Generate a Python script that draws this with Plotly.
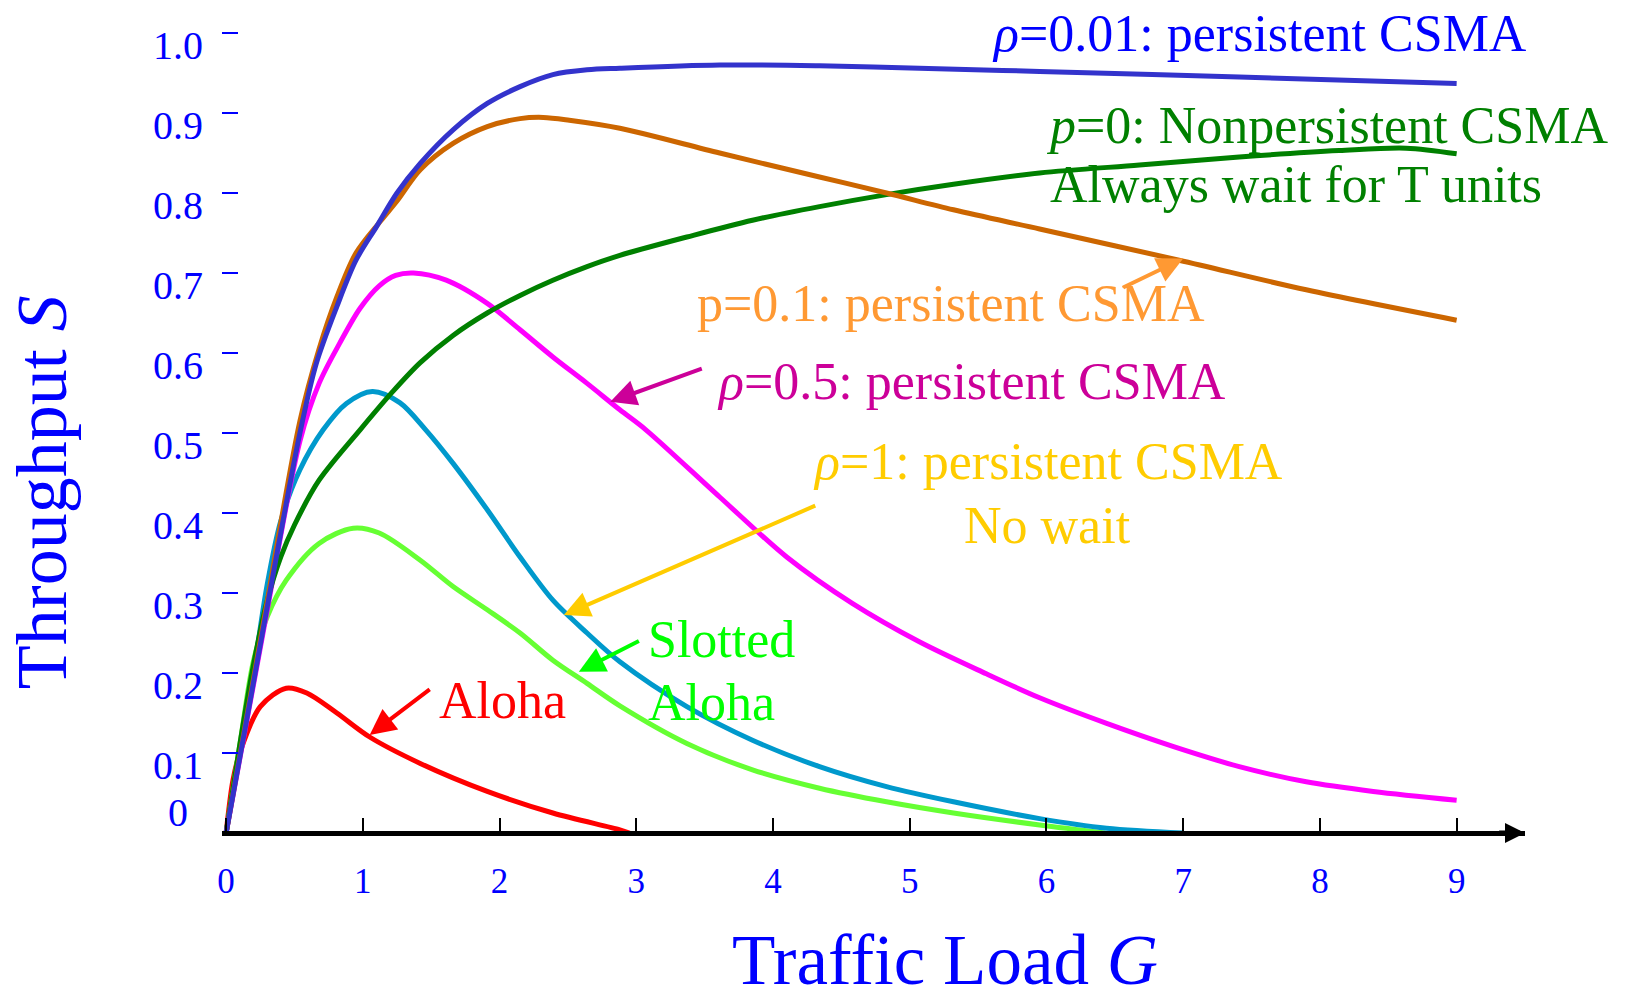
import plotly.graph_objects as go

# ---------------- data ----------------
x_ticks = [0, 1, 2, 3, 4, 5, 6, 7, 8, 9]
y_ticks = [0.1, 0.2, 0.3, 0.4, 0.5, 0.6, 0.7, 0.8, 0.9, 1.0]
y_tick_text = ["0.1", "0.2", "0.3", "0.4", "0.5", "0.6", "0.7", "0.8", "0.9", "1.0"]

blue_G = [0, 0.27, 0.54, 0.66, 0.81, 0.95, 1.10, 1.25, 1.42, 1.66, 1.91, 2.15, 2.39, 2.64, 2.88, 3.61, 4.34, 5.07, 5.95, 7.41, 9.0]
blue_S = [0, 0.254, 0.50, 0.587, 0.658, 0.716, 0.758, 0.80, 0.837, 0.879, 0.912, 0.933, 0.948, 0.954, 0.956, 0.96, 0.959, 0.956, 0.952, 0.945, 0.937]

orange_G = [0, 0.27, 0.54, 0.68, 0.81, 0.95, 1.13, 1.25, 1.42, 1.66, 1.91, 2.15, 2.32, 2.51, 2.88, 3.61, 4.34, 4.83, 5.32, 5.95, 6.97, 7.90, 9.0]
orange_S = [0, 0.26, 0.515, 0.605, 0.67, 0.725, 0.765, 0.79, 0.829, 0.862, 0.883, 0.893, 0.8945, 0.891, 0.881, 0.85, 0.82, 0.80, 0.779, 0.755, 0.716, 0.679, 0.641]

green_G = [0, 0.1, 0.2, 0.3, 0.4, 0.5, 0.68, 0.98, 1.22, 1.42, 1.66, 1.91, 2.15, 2.39, 2.64, 2.88, 3.37, 3.85, 4.34, 4.83, 5.32, 5.95, 6.68, 7.41, 8.14, 8.63, 9.0]
green_S = [0, 0.11, 0.21, 0.29, 0.345, 0.385, 0.441, 0.504, 0.552, 0.588, 0.622, 0.650, 0.672, 0.691, 0.708, 0.722, 0.745, 0.766, 0.783, 0.798, 0.811, 0.825, 0.835, 0.845, 0.853, 0.856, 0.849]

magenta_G = [0, 0.27, 0.54, 0.68, 0.83, 0.98, 1.12, 1.24, 1.37, 1.61, 1.91, 2.15, 2.39, 2.64, 2.88, 3.07, 3.61, 4.10, 4.58, 5.07, 5.56, 5.95, 6.44, 6.93, 7.41, 7.90, 8.39, 9.0]
magenta_S = [0, 0.25, 0.49, 0.562, 0.612, 0.656, 0.684, 0.697, 0.70, 0.691, 0.662, 0.629, 0.595, 0.562, 0.529, 0.504, 0.42, 0.345, 0.287, 0.239, 0.199, 0.169, 0.137, 0.108, 0.083, 0.064, 0.052, 0.041]

cyan_G = [0, 0.2, 0.3, 0.4, 0.54, 0.71, 0.88, 1.07, 1.27, 1.46, 1.66, 1.91, 2.15, 2.39, 2.64, 2.88, 3.37, 3.85, 4.34, 4.83, 5.32, 5.95, 6.44, 7.0]
cyan_S = [0, 0.2, 0.31, 0.39, 0.454, 0.504, 0.537, 0.552, 0.538, 0.504, 0.462, 0.404, 0.345, 0.291, 0.25, 0.214, 0.158, 0.116, 0.083, 0.058, 0.039, 0.018, 0.006, 0.0]

lgreen_G = [0, 0.1, 0.2, 0.3, 0.44, 0.68, 0.93, 1.12, 1.42, 1.66, 1.91, 2.15, 2.39, 2.64, 2.88, 3.37, 3.85, 4.34, 4.83, 5.32, 5.95, 6.43]
lgreen_S = [0, 0.11, 0.215, 0.27, 0.316, 0.362, 0.381, 0.375, 0.341, 0.308, 0.279, 0.25, 0.216, 0.187, 0.159, 0.112, 0.079, 0.056, 0.039, 0.025, 0.01, 0.0]

red_G = [0, 0.05, 0.1, 0.25, 0.44, 0.59, 0.81, 1.05, 1.42, 1.91, 2.39, 2.88, 2.95]
red_S = [0, 0.066, 0.1, 0.158, 0.181, 0.175, 0.15, 0.12, 0.087, 0.052, 0.025, 0.004, 0.0]

SERIF = "Liberation Serif, Times New Roman, serif"

series = [
    (red_G, red_S, "#FF0000"),
    (lgreen_G, lgreen_S, "#66FF33"),
    (cyan_G, cyan_S, "#0099CC"),
    (magenta_G, magenta_S, "#FF00FF"),
    (green_G, green_S, "#008000"),
    (orange_G, orange_S, "#CC6600"),
    (blue_G, blue_S, "#3333CC"),
]

fig = go.Figure()
for gx, sy, col in series:
    fig.add_trace(go.Scatter(x=gx, y=sy, mode="lines",
                             line=dict(color=col, width=5, shape="spline", smoothing=0.9),
                             showlegend=False, hoverinfo="skip"))

ann = []

def label(text, x, y, color, xanchor="center", size=52):
    ann.append(dict(text=text, x=x, y=y, xref="x", yref="y", showarrow=False,
                    xanchor=xanchor, yanchor="middle",
                    font=dict(family=SERIF, size=size, color=color)))

def arrow(x0, y0, x1, y1, color):
    ann.append(dict(text="", x=x1, y=y1, ax=x0, ay=y0, xref="x", yref="y",
                    axref="x", ayref="y", showarrow=True, arrowhead=2,
                    arrowsize=1.3, arrowwidth=4, arrowcolor=color, standoff=0))

label("<i>ρ</i>=0.01: persistent CSMA", 7.555, 1.0, "#0000FF")
label("<i>p</i>=0: Nonpersistent CSMA", 8.05, 0.884, "#008000")
label("Always wait for T units", 7.825, 0.811, "#008000")
label("p=0.1: persistent CSMA", 5.30, 0.6625, "#FF9933")
label("<i>ρ</i>=0.5: persistent CSMA", 5.45, 0.564, "#CC0099")
label("<i>ρ</i>=1: persistent CSMA", 6.01, 0.464, "#FFCC00")
label("No wait", 6.01, 0.384, "#FFCC00")
label("Slotted", 3.07, 0.2425, "#00FF00", xanchor="left")
label("Aloha", 3.07, 0.163, "#00FF00", xanchor="left")
label("Aloha", 1.54, 0.166, "#FF0000", xanchor="left")

arrow(6.55, 0.681, 7.00, 0.718, "#FF9933")
arrow(3.49, 0.581, 2.81, 0.539, "#CC0099")
arrow(4.32, 0.41, 2.47, 0.2725, "#FFCC00")
arrow(3.03, 0.241, 2.58, 0.2017, "#00FF00")
arrow(1.50, 0.181, 1.05, 0.1225, "#FF0000")

# x-axis arrow head
ann.append(dict(text="", x=9.5, y=0, ax=9.3, ay=0, xref="x", yref="y", axref="x", ayref="y",
                showarrow=True, arrowhead=2, arrowsize=0.8, arrowwidth=5, arrowcolor="black", standoff=0))

# "0" label on y axis
ann.append(dict(text="0", x=-0.0246, y=0.0433, xref="paper", yref="paper", showarrow=False,
                xanchor="right", yanchor="middle", font=dict(family=SERIF, size=40, color="#0000FF")))

# axis titles
ann.append(dict(text="Traffic Load <i>G</i>", x=0.555, y=-0.133, xref="paper", yref="paper", showarrow=False,
                xanchor="center", yanchor="middle", font=dict(family=SERIF, size=71, color="#0000FF")))
ann.append(dict(text="Throughput <i>S</i>", x=-0.138, y=0.429, xref="paper", yref="paper", showarrow=False,
                textangle=-90, xanchor="center", yanchor="middle",
                font=dict(family=SERIF, size=72, color="#0000FF")))

fig.update_layout(
    width=1629, height=998,
    margin=dict(l=222, r=104, t=17, b=149),
    paper_bgcolor="white", plot_bgcolor="white",
    annotations=ann,
    xaxis=dict(range=[-0.03, 9.5], anchor="free", position=0.02 / 1.04,
               showline=True, linecolor="black", linewidth=5,
               ticks="inside", ticklen=13, tickwidth=2, tickcolor="black",
               tickvals=x_ticks, ticktext=[str(v) for v in x_ticks],
               tickfont=dict(family=SERIF, size=35, color="#0000FF"),
               ticklabelstandoff=15,
               showgrid=False, zeroline=False),
    yaxis=dict(range=[-0.02, 1.02], showline=False,
               ticks="inside", ticklen=16, tickwidth=2, tickcolor="#0000FF",
               tickvals=y_ticks, ticktext=y_tick_text,
               tickfont=dict(family=SERIF, size=40, color="#0000FF"),
               ticklabelshift=12, ticklabelstandoff=18,
               showgrid=False, zeroline=False),
)

fig.write_html("out.html", config={"displayModeBar": False},
               post_script="document.body.style.margin='0';")
